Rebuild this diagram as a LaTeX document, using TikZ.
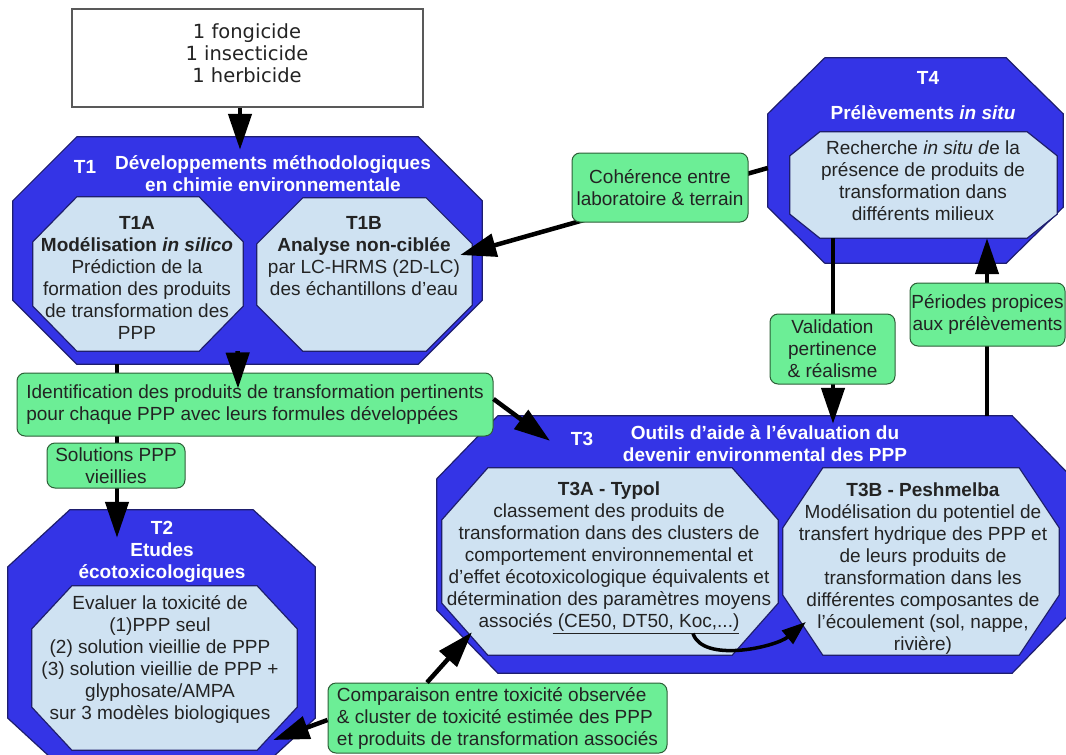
\documentclass[tikz,border=0pt]{standalone}
\usepackage{fontspec}
\setmainfont{Liberation Sans}
\newfontfamily\boxfont{DejaVu Sans}
\usepackage{tikz}
\usetikzlibrary{arrows.meta, positioning, calc}

\definecolor{tblue}{RGB}{52,52,230}
\definecolor{tnavy}{RGB}{30,30,110}
\definecolor{tlight}{RGB}{207,226,242}
\definecolor{tgreen}{RGB}{108,238,150}
\definecolor{tgreenline}{RGB}{45,95,55}
\definecolor{ttext}{RGB}{35,35,35}

\newcommand{\tsize}{\fontsize{19}{22}\selectfont}

% octagon drawn on the corners of a named node: style, node, x cut, y cut
\newcommand{\octa}[4][]{%
  \path[#1] ([xshift=#3]#2.north west) -- ([xshift=-#3]#2.north east)
    -- ([yshift=-#4]#2.north east) -- ([yshift=#4]#2.south east)
    -- ([xshift=-#3]#2.south east) -- ([xshift=#3]#2.south west)
    -- ([yshift=#4]#2.south west) -- ([yshift=-#4]#2.north west) -- cycle;}

\tikzset{
  frame/.style={rectangle, inner sep=0pt},
  bigocta/.style={fill=tblue, draw=tnavy, line width=1.2pt},
  smallocta/.style={fill=tlight, draw=tnavy, line width=1.2pt},
  title/.style={text=white, font=\tsize\bfseries, align=center, inner sep=0pt},
  body/.style={text=ttext, font=\tsize, align=center, inner sep=0pt},
  note/.style={rectangle, rounded corners=8pt, fill=tgreen, draw=tgreenline, line width=1pt,
    text=ttext, font=\tsize, inner sep=0pt},
  conn/.style={line width=4.5pt, -{Triangle[length=36pt,width=23pt]}},
  curv/.style={line width=3.5pt, -{Triangle[length=24pt,width=17pt]}},
}

\begin{document}
\begin{tikzpicture}[x=1pt, y=-1pt]
\useasboundingbox (0,0) rectangle (1066,755);
\clip (0,0) rectangle (1066,755);

% pesticides
\node[draw=black!65, line width=1.5pt, fill=white, minimum width=351pt, minimum height=98pt, inner sep=0pt] (ppp) at (247.5,58) {};
\node[text=ttext, font=\boxfont\fontsize{19.5}{22}\selectfont, align=center, inner sep=0pt] (ppptxt) at (247,53) {1 fongicide\\1 insecticide\\1 herbicide};

% T1
\node[frame, minimum width=469pt, minimum height=227pt] (t1) at (247.5,250.5) {};
\octa[bigocta]{t1}{64pt}{64pt}
\node[title] (t1lab) at (85,167) {T1};
\node[title] (t1tit) at (273,174) {Développements méthodologiques\\en chimie environnementale};
\node[frame, minimum width=210pt, minimum height=154pt] (t1a) at (138,274) {};
\octa[smallocta]{t1a}{44pt}{45pt}
\node[body] (t1atxt) at (137,278) {\textbf{T1A}\\\textbf{Modélisation \textit{in silico}}\\Prédiction de la\\formation des produits\\de transformation des\\PPP};
\node[frame, minimum width=215pt, minimum height=153pt] (t1b) at (364.5,274.5) {};
\octa[smallocta]{t1b}{46pt}{46pt}
\node[body] (t1btxt) at (364,256) {\textbf{T1B}\\\textbf{Analyse non-ciblée}\\par LC-HRMS (2D-LC)\\des échantillons d'eau};

% T4
\node[frame, minimum width=295pt, minimum height=205pt] (t4) at (915.5,160.5) {};
\octa[bigocta]{t4}{57pt}{56pt}
\node[title] (t4lab) at (928,78) {T4};
\node[title] (t4tit) at (923,113) {Prélèvements \textit{in situ}};
\node[frame, minimum width=267pt, minimum height=106pt] (t4in) at (923.5,185) {};
\octa[smallocta]{t4in}{30pt}{24pt}
\node[body] (t4txt) at (923,181) {Recherche \textit{in situ d}e la\\présence de produits de\\transformation dans\\différents milieux};

% T3
\node[frame, minimum width=636pt, minimum height=257pt] (t3) at (755,544.5) {};
\octa[bigocta]{t3}{61pt}{63pt}
\node[title] (t3lab) at (582,439) {T3};
\node[title] (t3tit) at (765,444) {Outils d’aide à l’évaluation du\\devenir environmental des PPP};
\node[frame, minimum width=336pt, minimum height=187pt] (t3a) at (610,561.5) {};
\octa[smallocta]{t3a}{46pt}{52pt}
\node[body] (t3atxt) at (609,558) {\textbf{T3A - Typol}\\classement des produits de\\transformation dans des clusters de\\comportement environnemental et\\d’effet écotoxicologique équivalents et\\détermination des paramètres moyens\\associés\underline{ (CE50, DT50, Koc,...)}};
\node[frame, minimum width=276pt, minimum height=187pt] (t3b) at (921,561.5) {};
\octa[smallocta]{t3b}{40pt}{60pt}
\node[body] (t3btxt) at (923,569) {\textbf{T3B - Peshmelba}\\Modélisation du potentiel de\\transfert hydrique des PPP et\\de leurs produits de\\transformation dans les\\différentes composantes de\\l’écoulement (sol, nappe,\\rivière)};

% T2
\node[frame, minimum width=307pt, minimum height=265pt] (t2) at (161.5,642.5) {};
\octa[bigocta]{t2}{62pt}{57pt}
\node[title] (t2tit) at (162,552) {T2\\Etudes\\écotoxicologiques};
\node[frame, minimum width=265pt, minimum height=164pt] (t2in) at (164.5,668) {};
\octa[smallocta]{t2in}{40pt}{43pt}
\node[body] (t2txt) at (160,659) {Evaluer la toxicité de\\(1)PPP seul\\(2) solution vieillie de PPP\\(3) solution vieillie de PPP +\\glyphosate/AMPA\\sur 3 modèles biologiques};

% lines running under the green labels
\draw[conn] ([xshift=-130.5pt]t1.south) -- ([xshift=-44.5pt,yshift=-28pt]t2.north);
\draw[conn] ([yshift=-7.5pt]t4.west) -- ([xshift=-12pt,yshift=19.5pt]t1b.east);
\draw[conn] ([xshift=-90.5pt]t4in.south) -- ([xshift=78pt,yshift=-8pt]t3.north);
\draw[conn] ([xshift=232pt]t3.north) -- ([xshift=63.5pt]t4in.south);
\draw[conn] ([xshift=-7.5pt]ppp.south) -- ([xshift=-7.5pt,yshift=-13pt]t1.north);

% green labels
\node[note, minimum width=476pt, minimum height=63pt, align=left] (ident) at (255,404.5) {Identification des produits de transformation pertinents\\pour chaque PPP avec leurs formules développées};
\node[note, minimum width=138pt, minimum height=45pt, align=center] (sol) at (116,465.5) {Solutions PPP\\vieillies};
\node[note, minimum width=176pt, minimum height=69pt, align=center] (coh) at (660,187.5) {Cohérence entre\\laboratoire \& terrain};
\node[note, minimum width=125pt, minimum height=70pt, align=center] (val) at (832.5,349) {Validation\\pertinence\\\& réalisme};
\node[note, minimum width=155pt, minimum height=63pt, align=center] (per) at (987.5,314.5) {Périodes propices\\aux prélèvements};
\node[note, minimum width=339pt, minimum height=70pt, align=left] (comp) at (497.5,718) {Comparaison entre toxicité observée\\\& cluster de toxicité estimée des PPP\\et produits de transformation associés};

% arrows leaving the labels
\draw[conn] ($(t1a.south)!0.44!(t1b.south)$) -- ([xshift=-17pt,yshift=-16pt]ident.north);
\draw[conn] ([yshift=5.5pt]ident.east) -- ([xshift=-205pt,yshift=-25pt]t3.north);
\draw[conn] ([xshift=-70.5pt]comp.north) -- ([xshift=-138pt,yshift=23pt]t3a.south);
\draw[conn] ([yshift=-2pt]comp.west) -- ([xshift=-24pt,yshift=-72pt]t2in.east);
\draw[curv] ([xshift=83pt,yshift=-72pt]t3a.center) .. controls +(10,30) and +(-30,25) .. ([xshift=23pt,yshift=-60.5pt]t3b.west);

\end{tikzpicture}
\end{document}
